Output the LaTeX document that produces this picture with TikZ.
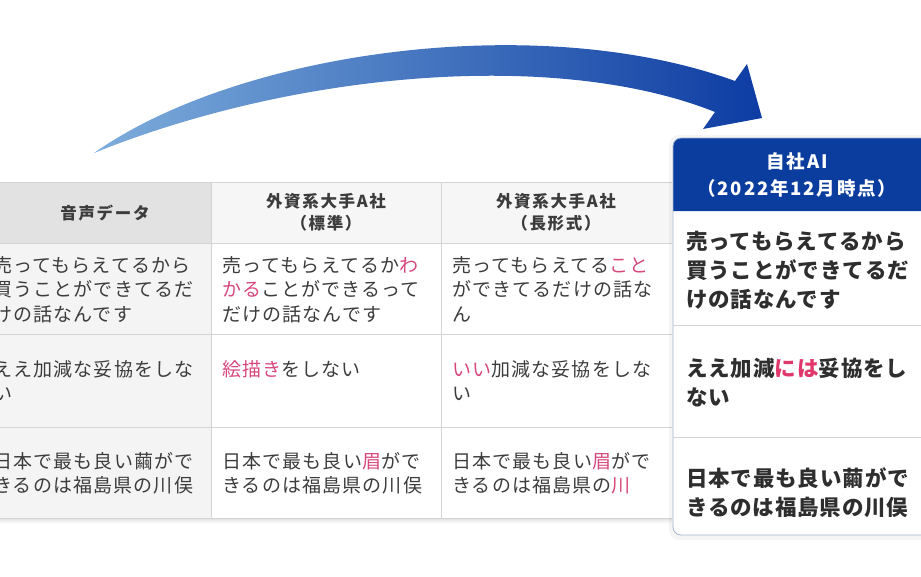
\documentclass[tikz,border=0pt]{standalone}
\usepackage{fontspec}
\setmainfont{Noto Sans CJK JP}
\newfontfamily\cellfont{Noto Sans CJK JP}[LetterSpace=6]
\newfontfamily\aifont{Noto Sans CJK JP}[LetterSpace=10]
\newfontfamily\aibody{Noto Sans CJK JP}[LetterSpace=4]
\definecolor{ink}{HTML}{3C3C3C}
\definecolor{missred}{HTML}{D6487C}
\definecolor{aired}{HTML}{E0386C}
\definecolor{grid}{HTML}{D4D4D4}
\definecolor{srcbg}{HTML}{F4F4F4}
\definecolor{srchead}{HTML}{E2E2E2}
\definecolor{headbg}{HTML}{F6F6F6}
\definecolor{aiblue}{HTML}{0B3D9F}
\definecolor{aiedge}{HTML}{9FB2D2}
\definecolor{tailblue}{HTML}{7DADDB}
\definecolor{headblue}{HTML}{0D3CA3}
\newcommand{\miss}[1]{\textcolor{missred}{#1}}
\newcommand{\fixd}[1]{\textcolor{aired}{#1}}
% multi-line nodes sit on the baseline of their last line
\tikzset{cell/.style={anchor=base west, inner sep=0pt, align=left, text=ink, font=\cellfont\fontsize{19}{24.5}\selectfont},
         colhead/.style={anchor=base, inner sep=0pt, align=center, text=ink, font=\aifont\bfseries\fontsize{16.5}{22}\selectfont},
         aicell/.style={anchor=base west, inner sep=0pt, align=left, text=black!82, font=\aibody\bfseries\fontsize{21.5}{29}\selectfont},
         aihead/.style={anchor=base, inner sep=0pt, align=center, text=white, font=\aifont\bfseries\fontsize{18.5}{27.5}\selectfont},
         gridline/.style={draw=grid, line width=1pt}}

\begin{document}
\begin{tikzpicture}[x=1pt,y=-1pt] % one unit is one pixel of the picture
\useasboundingbox (0,0) rectangle (921,576);
\clip (0,0) rectangle (921,576);
% table background
\fill[srchead] (-20,182) rectangle (211,243);
\fill[headbg] (211,182) rectangle (672,243);
\fill[srcbg] (-20,243) rectangle (211,518);
\foreach \i/\o in {1/0.10,2/0.07,3/0.05,4/0.03,5/0.015}
   \fill[black,opacity=\o] (-20,518+\i) rectangle (672,519+\i);
\foreach \y in {182,243,334,427,518}
   \draw[gridline] (-20,\y) -- (672,\y);
\foreach \x in {211,441}
   \draw[gridline] (\x,182) -- (\x,518);
% column heads
\node[colhead] (src) at (105,219) {音声データ};
\node[colhead] (std) at (326,229) {外資系大手A社\\（標準）};
\node[colhead] (lng) at (556,229) {外資系大手A社\\（長形式）};
% rows
\node[cell] (src1) at (-7,321) {売ってもらえてるから\\買うことができてるだ\\けの話なんです};
\node[cell] (src2) at (-7,400.5) {ええ加減な妥協をしな\\い};
\node[cell] (src3) at (-7,492.5) {日本で最も良い繭がで\\きるのは福島県の川俣};
\node[cell] (std1) at (222,321) {売ってもらえてるか\miss{わ}\\\miss{かる}ことができるって\\だけの話なんです};
\node[cell] (std2) at (222,376) {\miss{絵描き}をしない};
\node[cell] (std3) at (222,492.5) {日本で最も良い\miss{眉}がで\\きるのは福島県の川俣};
\node[cell] (lng1) at (452,321) {売ってもらえてる\miss{こと}\\ができてるだけの話な\\ん};
\node[cell] (lng2) at (452,400.5) {\miss{いい}加減な妥協をしな\\い};
\node[cell] (lng3) at (452,492.5) {日本で最も良い\miss{眉}がで\\きるのは福島県の\miss{川}};
% own AI panel
\fill[black,opacity=0.04,rounded corners=10] (669,135) rectangle (940,540);
\fill[white,rounded corners=8] (673,138) rectangle (940,535);
\fill[aiblue] (673,211) [rounded corners=8] -- (673,138) -- (940,138) [sharp corners] -- (940,211) -- cycle;
\draw[aiedge,line width=0.8pt,rounded corners=8] (673,138) rectangle (940,535);
\foreach \y in {325,437}
   \draw[gridline] (673,\y) -- (940,\y);
\node[aihead] (ai) at (797,195.5) {自社AI\\（2022年12月時点）};
\node[aicell] (ai1) at (686,307) {売ってもらえてるから\\買うことができてるだ\\けの話なんです};
\node[aicell] (ai2) at (686,405) {ええ加減\fixd{には}妥協をし\\ない};
\node[aicell] (ai3) at (686,515) {日本で最も良い繭がで\\きるのは福島県の川俣};
% big curved arrow
\shade[left color=tailblue,right color=headblue]
   (94,153) .. controls (240,50) and (540,10) .. (735,81)
   -- (747,64) -- (762,118) -- (703,129) -- (715,112)
   .. controls (560,50) and (300,70) .. (94,153) -- cycle;
\end{tikzpicture}
\end{document}
